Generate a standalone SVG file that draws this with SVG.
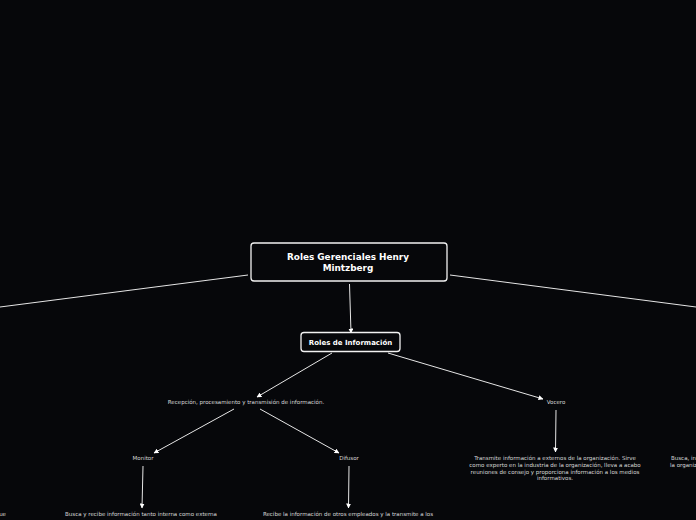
<svg xmlns="http://www.w3.org/2000/svg" width="696" height="520" viewBox="0 0 696 520">
<defs>
<style>
.bg{fill:#06070a}
.box{fill:#06070a;stroke:#f2f2f2;stroke-width:1.3}
.title{font-family:"DejaVu Sans",sans-serif;font-weight:bold;fill:#ffffff;text-anchor:middle}
.lbl{font-family:"DejaVu Sans",sans-serif;fill:#d8d8d8;text-anchor:middle;font-size:5.5px}
.ln{stroke:#e6e6e6;stroke-width:1;fill:none}
.arr{stroke:#e6e6e6;stroke-width:1;fill:none;marker-end:url(#ah)}
</style>
<marker id="ah" viewBox="0 0 10 10" refX="9" refY="5" markerWidth="5" markerHeight="5" orient="auto" markerUnits="userSpaceOnUse">
<path d="M0,0 L10,5 L0,10 z" fill="#ffffff"/>
</marker>
</defs>
<rect class="bg" x="0" y="0" width="696" height="520"/>
<g id="connectors">
<line class="ln" x1="248" y1="275" x2="0" y2="307"/>
<line class="ln" x1="450" y1="275" x2="696" y2="307"/>
<line class="arr" x1="349.5" y1="284" x2="351" y2="333"/>
<line class="arr" x1="332" y1="353" x2="257" y2="397"/>
<line class="arr" x1="388" y1="353" x2="543" y2="399"/>
<line class="arr" x1="234" y1="409" x2="154" y2="453"/>
<line class="arr" x1="260" y1="409" x2="339" y2="453"/>
<line class="arr" x1="143" y1="466" x2="142" y2="508"/>
<line class="arr" x1="349" y1="466" x2="348.5" y2="508"/>
<line class="arr" x1="556" y1="410" x2="555.5" y2="452"/>
</g>
<g id="root">
<rect class="box" x="251" y="243" width="196" height="38" rx="3"/>
<text class="title" font-size="8.9" x="348" y="260">Roles Gerenciales Henry</text>
<text class="title" font-size="8.9" x="348" y="271">Mintzberg</text>
</g>
<g id="info">
<rect class="box" x="301" y="332.5" width="99" height="19" rx="3"/>
<text class="title" font-size="7" x="350.5" y="344.5">Roles de Información</text>
</g>
<g id="recepcion">
<text class="lbl" x="246" y="404">Recepción, procesamiento y transmisión de información.</text>
</g>
<g id="vocero">
<text class="lbl" x="556" y="404">Vocero</text>
</g>
<g id="monitor">
<text class="lbl" x="143" y="460">Monitor</text>
</g>
<g id="difusor">
<text class="lbl" x="349" y="460">Difusor</text>
</g>
<g id="vocero-desc">
<text class="lbl" x="555" y="460">Transmite información a externos de la organización. Sirve</text>
<text class="lbl" x="555" y="467">como experto en la industria de la organización, lleva a acabo</text>
<text class="lbl" x="555" y="473.5">reuniones de consejo y proporciona información a los medios</text>
<text class="lbl" x="555" y="480">informativos.</text>
</g>
<g id="monitor-desc">
<text class="lbl" x="141" y="516">Busca y recibe información tanto interna como externa</text>
</g>
<g id="difusor-desc">
<text class="lbl" x="348" y="516">Recibe la información de otros empleados y la transmite a los</text>
</g>
<g id="left-desc">
<text class="lbl" x="6" y="516" style="text-anchor:end">ue</text>
</g>
<g id="right-desc">
<text class="lbl" x="671" y="460" style="text-anchor:start">Busca, in</text>
<text class="lbl" x="670" y="467" style="text-anchor:start">la organiz</text>
</g>
</svg>
